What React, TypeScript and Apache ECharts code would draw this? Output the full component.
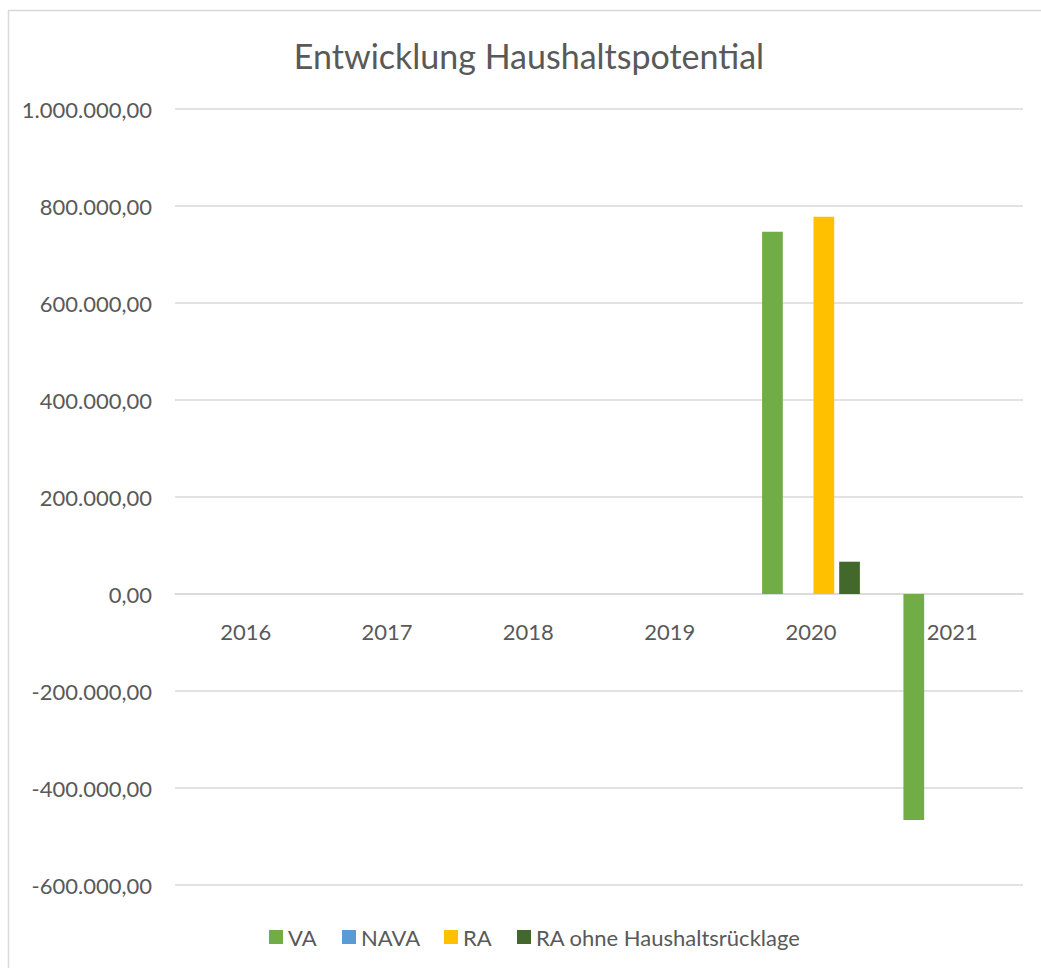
import React, { useEffect, useRef } from "react";
import * as echarts from "echarts";

const categories = ["2016", "2017", "2018", "2019", "2020", "2021"];
const seriesNames = ["VA", "NAVA", "RA", "RA ohne Haushaltsrücklage"];
const vaValues = [0, 0, 0, 0, 747000, -466000];
const navaValues = [0, 0, 0, 0, 0, 0];
const raValues = [0, 0, 0, 0, 778000, 0];
const raOhneValues = [0, 0, 0, 0, 66600, 0];
const seriesColors = ["#70AD47", "#5B9BD5", "#FFC000", "#43682B"];
const titleText = "Entwicklung Haushaltspotential";

const Y_MIN = -600000;
const Y_MAX = 1000000;
const Y_STEP = 200000;

const FONT = "Lato, 'Open Sans', sans-serif";
const TEXT_COLOR = "#595959";
const GRID = { left: 175, right: 18, top: 109, bottom: 83 };
const HEIGHT = 968;
const LEGEND_LEFTS = [269, 342, 444, 517];

function fmt(v: number): string {
  const neg = v < 0;
  const s = Math.abs(v).toFixed(2);
  const [i, d] = s.split(".");
  const ii = i.replace(/\B(?=(\d{3})+(?!\d))/g, ".");
  return (neg ? "-" : "") + ii + "," + d;
}

export default function App() {
  const ref = useRef<HTMLDivElement>(null);
  useEffect(() => {
    if (!ref.current) return;
    const chart = echarts.init(ref.current, null, { renderer: "svg" });
    const data = [vaValues, navaValues, raValues, raOhneValues];
    const plotH = HEIGHT - GRID.top - GRID.bottom;
    const zeroOffset = -Math.round((plotH * (0 - Y_MIN)) / (Y_MAX - Y_MIN));
    chart.setOption({
      animation: false,
      backgroundColor: "#ffffff",
      textStyle: { fontFamily: FONT },
      graphic: [
        {
          type: "rect",
          shape: { x: 8.5, y: 10.5, width: 1100, height: 1000 },
          style: { fill: "none", stroke: "#d9d9d9", lineWidth: 1.5 },
          silent: true,
          z: -1,
        },
        {
          type: "text",
          x: 529,
          y: 55,
          style: {
            text: titleText,
            fontFamily: FONT,
            fontSize: 34,
            fill: TEXT_COLOR,
            align: "center",
            verticalAlign: "middle",
          },
        },
      ],
      legend: seriesNames.map((name, i) => ({
        data: [name],
        left: LEGEND_LEFTS[i],
        top: 926,
        padding: 0,
        itemWidth: 14,
        itemHeight: 14,
        icon: "rect",
        textStyle: { fontFamily: FONT, fontSize: 22, color: TEXT_COLOR },
      })),
      grid: { ...GRID, containLabel: false },
      xAxis: {
        type: "category",
        data: categories,
        position: "bottom",
        offset: zeroOffset,
        axisLine: { show: true, onZero: false, lineStyle: { color: "#d9d9d9", width: 1.5 } },
        axisTick: { show: false },
        axisLabel: {
          margin: 26,
          fontFamily: FONT,
          fontSize: 22,
          color: TEXT_COLOR,
        },
      },
      yAxis: {
        type: "value",
        min: Y_MIN,
        max: Y_MAX,
        interval: Y_STEP,
        axisLine: { show: false },
        axisTick: { show: false },
        splitLine: { lineStyle: { color: "#d9d9d9", width: 1.5 } },
        axisLabel: {
          margin: 23,
          fontFamily: FONT,
          fontSize: 22,
          color: TEXT_COLOR,
          formatter: (v: number) => fmt(v),
        },
      },
      series: seriesNames.map((name, i) => ({
        name,
        type: "bar",
        data: data[i],
        itemStyle: { color: seriesColors[i] },
        barGap: "24%",
        barCategoryGap: "30.8%",
      })),
    });
    return () => chart.dispose();
  }, []);
  return (
    <div
      ref={ref}
      style={{ position: "absolute", left: 0, top: 0, width: 1041, height: 968 }}
    />
  );
}
